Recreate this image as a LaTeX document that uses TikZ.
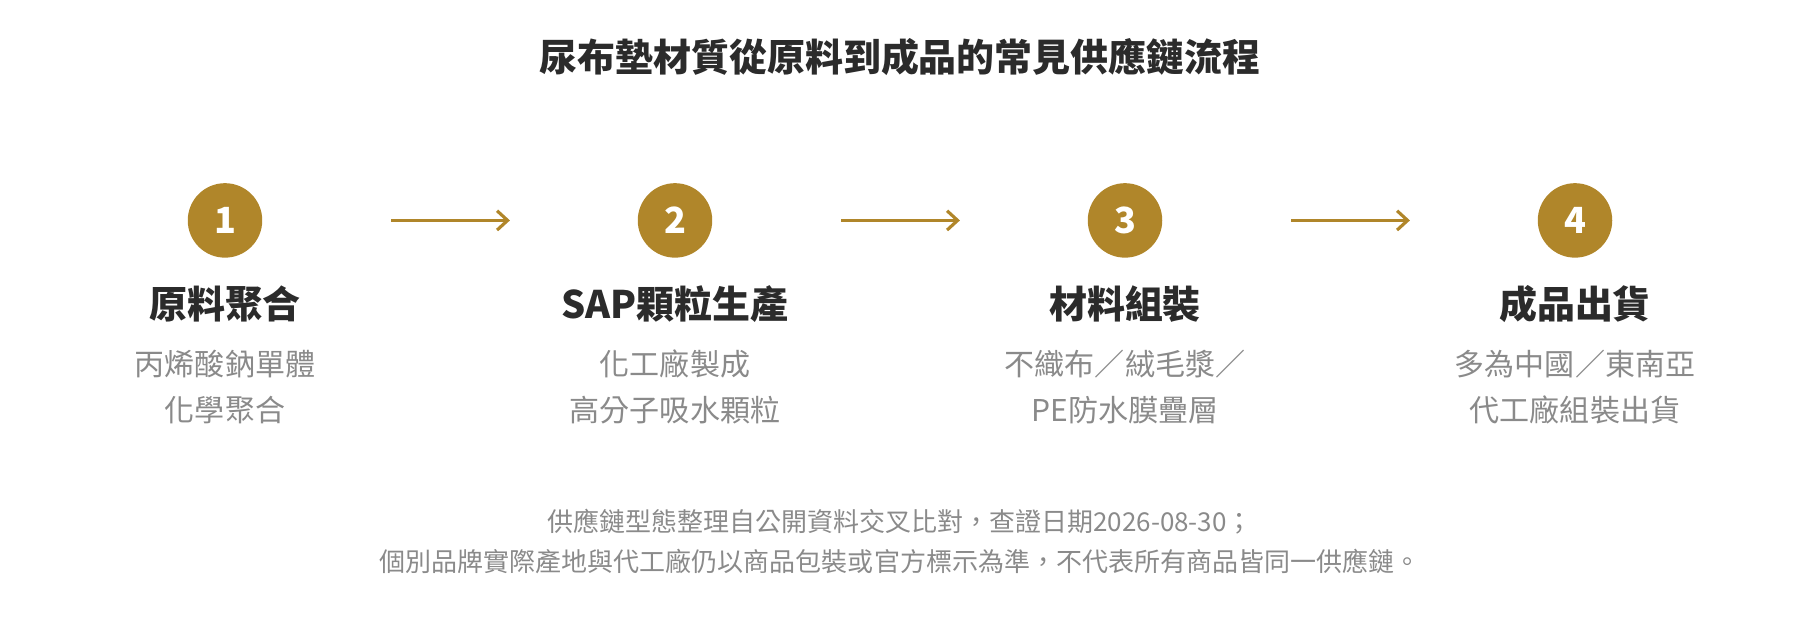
\documentclass[tikz,border=0pt]{standalone}
\usepackage{fontspec}
\usepackage{xcolor}
\usepackage{tikz}
\usetikzlibrary{arrows.meta}
\setmainfont{Noto Sans CJK TC}
\definecolor{gold}{HTML}{B0862A}
\definecolor{darktext}{HTML}{2B2B2B}
\definecolor{greytext}{HTML}{8A8A8A}

\begin{document}
\begin{tikzpicture}[x=0.02296cm,y=-0.02296cm,%
% common options for the numbered circles:
ball/.style = {circle, fill=gold, text=white, minimum size=1.49cm, inner sep=0,
            font=\fontsize{20.5}{20.5}\selectfont\bfseries},
% common options for the step titles and notes:
head/.style = {text=darktext, align=center, font=\fontsize{21.6}{25}\selectfont\bfseries},
note/.style = {text=greytext, align=center, font=\fontsize{17.1}{26}\selectfont},
flow/.style = {gold, line width=1.8pt, -{Straight Barb[length=6pt,width=11pt]},
            shorten <=2.57cm, shorten >=2.55cm}]
\useasboundingbox (0,0) rectangle (1568,557.5);
\node[text=darktext, font=\fontsize{21.6}{26}\selectfont\bfseries] (title) at (784,50) {尿布墊材質從原料到成品的常見供應鏈流程};
\node[ball] (c1) at (196,192) {1};
\node[ball] (c2) at (588,192) {2};
\node[ball] (c3) at (980,192) {3};
\node[ball] (c4) at (1372,192) {4};
\node[head] (h1) at (196,265) {原料聚合};
\node[head] (h2) at (588,265) {SAP顆粒生產};
\node[head] (h3) at (980,265) {材料組裝};
\node[head] (h4) at (1372,265) {成品出貨};
\node[note] (s1) at (196,337) {丙烯酸鈉單體\\化學聚合};
\node[note] (s2) at (588,337) {化工廠製成\\高分子吸水顆粒};
\node[note] (s3) at (980,337) {不織布／絨毛漿／\\PE防水膜疊層};
\node[note] (s4) at (1372,337) {多為中國／東南亞\\代工廠組裝出貨};
\draw[flow] (c1.east) to (c2.west);
\draw[flow] (c2.east) to (c3.west);
\draw[flow] (c3.east) to (c4.west);
\node[text=greytext, align=center, font=\fontsize{14.8}{22.9}\selectfont] (foot) at (784,472)
  {供應鏈型態整理自公開資料交叉比對，查證日期2026-08-30；\\個別品牌實際產地與代工廠仍以商品包裝或官方標示為準，不代表所有商品皆同一供應鏈。};
\end{tikzpicture}
\end{document}
